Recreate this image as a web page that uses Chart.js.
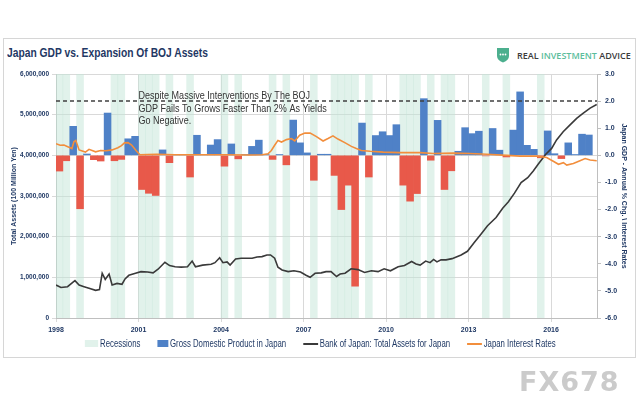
<!DOCTYPE html>
<html>
<head>
<meta charset="utf-8">
<script src="https://cdn.jsdelivr.net/npm/chart.js@4.4.1/dist/chart.umd.min.js"></script>
<style>
  html, body { margin: 0; padding: 0; background: #fff; }
  #page { position: relative; width: 640px; height: 400px; overflow: hidden;
          font-family: 'Liberation Sans', Arial, sans-serif; }
  #frame { position: absolute; left: 3px; top: 38px; width: 633px; height: 320px;
           border: 1px solid #d6d6d6; box-sizing: border-box; }
  #title { position: absolute; left: 7px; top: 45px; font-weight: bold; font-size: 13px; color: #1f3864;
           transform: scaleX(0.79); transform-origin: left center; white-space: nowrap; }
  #logo { position: absolute; left: 496px; top: 47px; height: 16px; display: flex; align-items: center; }
  #logo .txt { margin-left: 7px; font-family: 'Open Sans', sans-serif; font-weight: 600; font-size: 9px; color: #3b3b3b; white-space: nowrap; }
  #logo .txt b { color: #5bbd9c; font-weight: 600; }
  #chartBox { position: absolute; left: 0; top: 0; width: 640px; height: 400px; }
  #legend { position: absolute; left: 0; top: 338px; width: 640px; display: flex; justify-content: center;
            gap: 22px; font-size: 10px; color: #1f3864; white-space: nowrap;
            transform: scaleX(0.78); transform-origin: 322px 0; }
  #legend .item { display: flex; align-items: center; }
  #legend .sw { display: inline-block; margin-right: 2px; }
  #wm { position: absolute; left: 519px; top: 366px; font-family: 'DejaVu Sans', sans-serif; font-weight: bold;
        font-size: 27px; color: #cbcbcb; letter-spacing: 1px; }
</style>
</head>
<body>
<div id="page">
  <div id="frame"></div>
  <div id="title">Japan GDP vs. Expansion Of BOJ Assets</div>
  <div id="logo">
    <svg width="14" height="16" viewBox="0 0 14 16">
      <path d="M1 1 H13 V9 Q13 13 7 15.5 Q1 13 1 9 Z" fill="#4caf8e"/>
      <circle cx="4.5" cy="7.5" r="0.9" fill="#fff"/><circle cx="7" cy="7.5" r="0.9" fill="#fff"/><circle cx="9.5" cy="7.5" r="0.9" fill="#fff"/>
    </svg>
    <span class="txt">REAL <b>INVESTMENT</b> ADVICE</span>
  </div>
  <div id="chartBox"><canvas id="myChart"></canvas></div>
  <div id="legend"></div>
  <div id="wm">FX678</div>
</div>
<script>
// quarterly GDP, annual % chg, 1998Q1 .. 2017Q2
const firstYear = 1998;
const lastQuarter = '2017Q2';
const quarters = [];
for (let y = firstYear; y <= 2017; y++) {
    for (let q = 1; q <= 4; q++) {
        quarters.push(y + 'Q' + q);
        if (y + 'Q' + q === lastQuarter) break;
    }
}

const gdpChange = [
    -0.58, -0.20, 1.07, -1.97, 0.05, -0.16, -0.21, 1.56, -0.20, -0.15,
    0.61, 0.70, -1.26, -1.40, -1.48, 0.20, -0.27, 0.03, 0.02, -0.80,
    0.74, 0.02, 0.38, 0.58, -0.40, 0.42, -0.13, 0.03, 0.33, 0.56,
    0.03, -0.15, 0.03, -0.35, 1.30, 0.46, 0.09, -0.92, 0.04, 0.04,
    -0.74, -2.00, -1.10, -4.83, 1.19, -0.80, 0.73, 0.87, 0.73, 1.13,
    -1.10, -1.69, -1.41, 2.09, -0.18, 1.29, -1.26, -0.57, 0.15, 1.02,
    0.80, 0.89, -0.02, 0.99, 0.19, -0.06, 0.93, 2.34, 0.37, 0.22,
    -0.09, 0.90, 0.06, -0.12, 0.46, 0.03, 0.78, 0.75
];

const recessionQuarters = [
    '1998Q1', '1998Q2', '1998Q4', '2000Q1', '2000Q2', '2001Q1', '2001Q2', '2001Q3',
    '2002Q1', '2002Q4', '2004Q1', '2004Q3', '2005Q4', '2006Q2', '2007Q2',
    '2008Q1', '2008Q2', '2008Q3', '2008Q4', '2009Q2', '2010Q3', '2010Q4', '2011Q1',
    '2011Q3', '2012Q1', '2012Q2', '2013Q3', '2014Q2', '2015Q3'
];

// Bank of Japan total assets (100 million yen)
const bojDates = [
    1998.00, 1998.18, 1998.42, 1998.62, 1998.69, 1998.84, 1999.02, 1999.20, 1999.44, 1999.58,
    1999.68, 1999.79, 1999.93, 2000.04, 2000.22, 2000.40, 2000.51, 2000.65, 2000.89, 2001.09,
    2001.33, 2001.53, 2001.71, 2001.96, 2002.13, 2002.33, 2002.55, 2002.78, 2002.95, 2003.07,
    2003.33, 2003.64, 2003.78, 2003.95, 2004.07, 2004.22, 2004.33, 2004.53, 2004.73, 2004.95,
    2005.13, 2005.31, 2005.49, 2005.67, 2005.80, 2005.95, 2006.07, 2006.22, 2006.44, 2006.65,
    2006.89, 2007.09, 2007.24, 2007.42, 2007.64, 2007.82, 2008.00, 2008.20, 2008.33, 2008.51,
    2008.73, 2008.98, 2009.22, 2009.47, 2009.71, 2009.93, 2010.16, 2010.44, 2010.67, 2010.93,
    2011.09, 2011.24, 2011.44, 2011.60, 2011.73, 2011.85, 2012.00, 2012.18, 2012.40, 2012.73,
    2012.96, 2013.20, 2013.45, 2013.69, 2014.00, 2014.24, 2014.45, 2014.67, 2014.91, 2015.15,
    2015.36, 2015.53, 2015.80, 2016.02, 2016.20, 2016.44, 2016.69, 2016.93, 2017.16, 2017.42,
    2017.66
];
const bojAssets = [
    810000, 750000, 770000, 880000, 920000, 810000, 770000, 730000, 680000, 700000,
    1100000, 950000, 1080000, 810000, 850000, 830000, 960000, 1050000, 1100000, 1140000,
    1130000, 1110000, 1200000, 1370000, 1290000, 1260000, 1250000, 1260000, 1400000, 1260000,
    1300000, 1320000, 1360000, 1480000, 1360000, 1380000, 1300000, 1450000, 1470000, 1470000,
    1470000, 1500000, 1510000, 1550000, 1550000, 1470000, 1250000, 1180000, 1140000, 1160000,
    1130000, 1050000, 1000000, 1100000, 1110000, 1140000, 1140000, 1020000, 1080000, 1100000,
    1210000, 1190000, 1120000, 1160000, 1140000, 1210000, 1160000, 1260000, 1290000, 1390000,
    1330000, 1300000, 1400000, 1360000, 1440000, 1380000, 1430000, 1430000, 1460000, 1550000,
    1640000, 1850000, 2060000, 2270000, 2470000, 2700000, 2860000, 3070000, 3330000, 3450000,
    3620000, 3780000, 4020000, 4170000, 4380000, 4580000, 4750000, 4910000, 5030000, 5160000,
    5250000
];

// Japan interest rates (%)
const rateDates = [
    1998.00, 1998.15, 1998.29, 1998.47, 1998.58, 1998.65, 1998.72, 1998.84, 1999.07, 1999.20,
    1999.44, 1999.62, 1999.82, 2000.04, 2000.25, 2000.38, 2000.49, 2000.62, 2000.75, 2000.91,
    2001.05, 2001.31, 2001.67, 2002.33, 2003.24, 2004.15, 2005.05, 2005.49, 2005.71, 2005.83,
    2005.95, 2006.07, 2006.20, 2006.38, 2006.56, 2006.68, 2006.86, 2007.05, 2007.24, 2007.47,
    2007.71, 2007.89, 2008.07, 2008.25, 2008.50, 2008.74, 2008.92, 2009.10, 2009.42, 2009.90,
    2010.51, 2011.24, 2011.72, 2012.45, 2013.05, 2013.66, 2014.39, 2014.87, 2015.48, 2015.84,
    2016.08, 2016.27, 2016.45, 2016.57, 2016.81, 2017.05, 2017.24, 2017.42, 2017.66
];
const rateValues = [
    0.43, 0.37, 0.38, 0.30, 0.25, 0.50, 0.55, 0.20, 0.12, 0.22,
    0.13, 0.18, 0.17, 0.20, 0.28, 0.36, 0.46, 0.47, 0.38, 0.18,
    0.02, 0.03, 0.04, 0.02, 0.02, 0.02, 0.01, 0.02, 0.06, 0.18,
    0.37, 0.55, 0.49, 0.58, 0.62, 0.53, 0.74, 0.82, 0.82, 0.69,
    0.53, 0.62, 0.72, 0.60, 0.47, 0.33, 0.25, 0.18, 0.15, 0.12,
    0.10, 0.10, 0.07, 0.08, 0.07, 0.04, 0.00, -0.03, -0.03, -0.08,
    -0.22, -0.33, -0.27, -0.36, -0.30, -0.20, -0.12, -0.17, -0.20
];

const targetGrowth = 2.0;
const xStart = 1998, xEnd = 2017.67;
const noteLines = [
    'Despite Massive Interventions By The BOJ',
    'GDP Fails To Grows Faster Than 2% As Yields',
    'Go Negative.'
];
const noteYear = 2001;

const FONT = "'Liberation Sans', Arial, sans-serif";
const NAVY = '#1f3864';
const BLUE = '#4f81c7';
const RED = '#e8594a';
const MINT = 'rgba(196, 229, 216, 0.5)';

function quarterMid(label) {
    const y = parseInt(label.slice(0, 4));
    const q = parseInt(label.slice(5));
    return y + (q - 1) * 0.25 + 0.125;
}

Chart.defaults.font.family = FONT;
Chart.defaults.color = NAVY;

const notePlugin = {
    id: 'note',
    afterDatasetsDraw(chart) {
        const ctx = chart.ctx;
        const x = chart.scales.x.getPixelForValue(noteYear);
        const y = chart.scales.y1.getPixelForValue(targetGrowth) - 5;
        ctx.save();
        ctx.font = '11px ' + FONT;
        ctx.fillStyle = '#333333';
        ctx.textBaseline = 'middle';
        noteLines.forEach((t, i) => {
            // condensed like the original Calibri text
            ctx.fillText(t, x, y + i * 12.5, ctx.measureText(t).width * 0.82);
        });
        ctx.restore();
    }
};

const ctx = document.getElementById('myChart');

let jpChart = new Chart(ctx, {
    type: 'bar',
    data: {
        datasets: [{
            label: 'Recessions',
            type: 'bar',
            yAxisID: 'yRec',
            data: quarters.map(q => ({x: quarterMid(q), y: recessionQuarters.includes(q) ? 1 : null})),
            backgroundColor: MINT,
            grouped: false,
            categoryPercentage: 1,
            barPercentage: 1,
            order: 10,
        }, {
            label: 'Gross Domestic Product in Japan',
            type: 'bar',
            yAxisID: 'y1',
            data: quarters.map((q, i) => ({x: quarterMid(q), y: gdpChange[i]})),
            backgroundColor: c => (c.raw && c.raw.y < 0) ? RED : BLUE,
            legendColor: BLUE,
            grouped: false,
            categoryPercentage: 1,
            barPercentage: 1,
            order: 5,
        }, {
            label: 'Bank of Japan: Total Assets for Japan',
            type: 'line',
            yAxisID: 'y',
            data: bojDates.map((d, i) => ({x: d, y: bojAssets[i]})),
            borderColor: '#3a3a3a',
            borderWidth: 1.6,
            pointRadius: 0,
            order: 2,
        }, {
            label: 'Japan Interest Rates',
            type: 'line',
            yAxisID: 'y1',
            data: rateDates.map((d, i) => ({x: d, y: rateValues[i]})),
            borderColor: '#f28e3c',
            borderWidth: 1.6,
            pointRadius: 0,
            order: 1,
        }, {
            label: '',
            type: 'line',
            yAxisID: 'y1',
            data: [{x: xStart, y: targetGrowth}, {x: xEnd, y: targetGrowth}],
            borderColor: '#404040',
            borderWidth: 1.5,
            borderDash: [4, 3],
            pointRadius: 0,
            order: 3,
        }]
    },
    options: {
        maintainAspectRatio: false,
        animation: false,
        layout: {
            padding: {left: 4, right: 0, top: 74, bottom: 64}
        },
        plugins: {
            legend: {display: false},
            tooltip: {enabled: false},
        },
        scales: {
            x: {
                type: 'linear',
                min: xStart,
                max: xEnd,
                offset: false,
                grid: {color: '#d9d9d9', offset: false, tickLength: 4},
                border: {color: '#bfbfbf'},
                ticks: {
                    stepSize: 3,
                    includeBounds: false,
                    maxRotation: 0,
                    padding: 4,
                    font: {size: 7, weight: 'bold'},
                    callback: v => String(v),
                },
                afterFit: s => { s.height = 18; },
            },
            y: {
                position: 'left',
                min: 0,
                max: 6000000,
                grid: {color: '#d9d9d9', tickLength: 4},
                border: {color: '#bfbfbf'},
                ticks: {
                    stepSize: 1000000,
                    padding: 3,
                    font: {size: 6.5, weight: 'bold'},
                    callback: v => v.toLocaleString('en-US'),
                },
                title: {
                    display: true,
                    text: 'Total Assets (100 Million Yen)',
                    font: {size: 7, weight: 'bold'},
                    padding: {top: 6, bottom: 0},
                },
                afterFit: s => { s.width = 52; },
            },
            y1: {
                position: 'right',
                min: -6,
                max: 3,
                grid: {drawOnChartArea: false, color: '#bfbfbf', tickLength: 4},
                border: {color: '#bfbfbf'},
                ticks: {
                    stepSize: 1,
                    padding: 4,
                    font: {size: 7, weight: 'bold'},
                    callback: v => v.toFixed(1),
                },
                title: {
                    display: true,
                    text: 'Japan GDP - Annual % Chg. \\ Interest Rates',
                    font: {size: 7, weight: 'bold'},
                    padding: {top: 12, bottom: 0},
                },
                afterFit: s => { s.width = 43; },
            },
            yRec: {
                display: false,
                min: 0,
                max: 1,
            },
        }
    },
    plugins: [notePlugin],
});

// html legend built from the chart datasets
const legendBox = document.getElementById('legend');
jpChart.data.datasets.forEach(ds => {
    if (!ds.label) return;
    const item = document.createElement('div');
    item.className = 'item';
    const sw = document.createElement('span');
    sw.className = 'sw';
    if (ds.type === 'line') {
        sw.style.width = '19px';
        sw.style.height = '2px';
        sw.style.background = ds.borderColor;
    } else {
        sw.style.width = ds.label === 'Recessions' ? '17px' : '14px';
        sw.style.height = '7px';
        sw.style.background = ds.legendColor || ds.backgroundColor;
    }
    item.appendChild(sw);
    item.appendChild(document.createTextNode(ds.label));
    legendBox.appendChild(item);
});
</script>
</body>
</html>
